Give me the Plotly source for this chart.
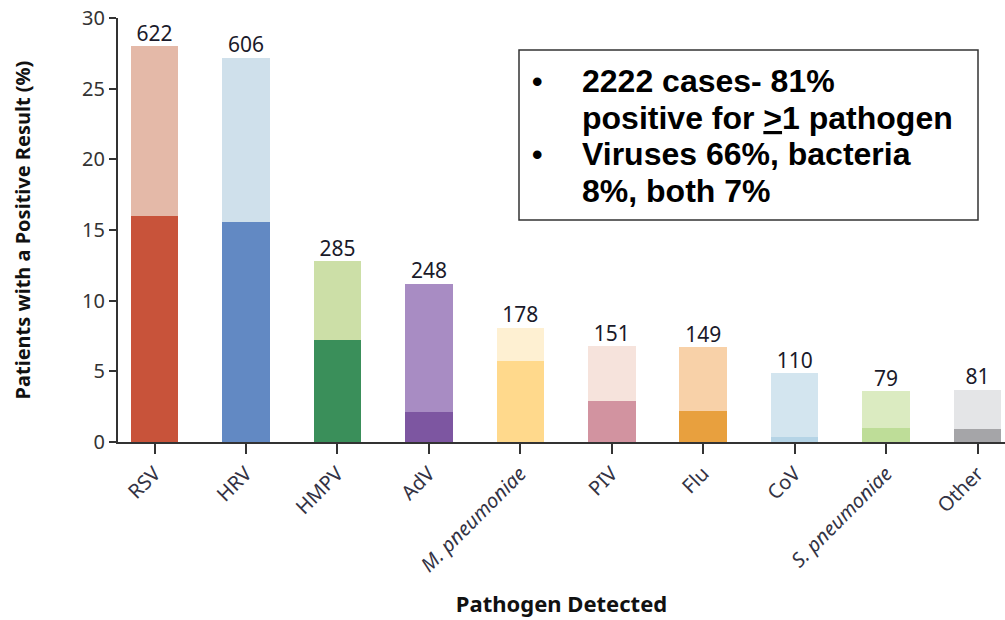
import plotly.graph_objects as go

categories = ["RSV", "HRV", "HMPV", "AdV", "<i>M. pneumoniae</i>", "PIV", "Flu", "CoV",
              "<i>S. pneumoniae</i>", "Other"]
total_pct = [28.0, 27.2, 12.8, 11.2, 8.1, 6.8, 6.7, 4.9, 3.6, 3.7]
dark_pct = [16.0, 15.6, 7.2, 2.1, 5.7, 2.9, 2.2, 0.35, 1.0, 0.9]
case_counts = ["622", "606", "285", "248", "178", "151", "149", "110", "79", "81"]
dark_colors = ["#C8533A", "#6289C3", "#3A8F5A", "#7D56A1", "#FFD98C", "#D293A0",
               "#E8A03E", "#B5D4E6", "#BEDD98", "#A5A5A8"]
light_colors = ["#E4B9A8", "#CFE0EB", "#CCDFA7", "#A88CC3", "#FEF0D2", "#F6E3DC",
                "#F8D1A8", "#D3E5EF", "#DBEBC1", "#E4E5E7"]
y_ticks = [0, 5, 10, 15, 20, 25, 30]
box_lines = ["2222 cases- 81%", "positive for <u>></u>1 pathogen",
             "Viruses 66%, bacteria", "8%, both 7%"]

light_pct = [t - d for t, d in zip(total_pct, dark_pct)]

fig = go.Figure()
fig.add_trace(go.Bar(x=categories, y=dark_pct, marker=dict(color=dark_colors, line=dict(width=0)),
                     hoverinfo="skip"))
fig.add_trace(go.Bar(x=categories, y=light_pct, marker=dict(color=light_colors, line=dict(width=0)),
                     hoverinfo="skip"))
fig.add_trace(go.Scatter(x=categories, y=total_pct, mode="text", text=case_counts,
                         textposition="top center",
                         textfont=dict(family="Noto Sans", size=21, color="#1a1a2a"),
                         hoverinfo="skip"))

fig.update_layout(
    width=1005, height=620,
    barmode="stack", bargap=0.48, showlegend=False,
    plot_bgcolor="white", paper_bgcolor="white",
    margin=dict(l=118, r=0, t=18, b=178),
    xaxis=dict(type="category", range=[-0.4, 9.3], tickangle=-45, automargin=False,
               showline=True, linecolor="#333333", linewidth=2,
               ticks="outside", ticklen=10, tickwidth=2, tickcolor="#333333",
               tickfont=dict(family="Noto Sans", size=20, color="#333344"),
               title=dict(text="<b>Pathogen Detected</b>", standoff=20,
                          font=dict(family="Noto Sans", size=22, color="#111111"))),
    yaxis=dict(range=[0, 30], tickvals=y_ticks, showgrid=False, zeroline=False, automargin=False,
               showline=True, linecolor="#333333", linewidth=2,
               ticks="outside", ticklen=7, tickwidth=1.5, tickcolor="#333333",
               tickfont=dict(family="Noto Sans", size=20, color="#333333"),
               title=dict(text="<b>Patients with a Positive Result (%)</b>", standoff=46,
                          font=dict(family="Noto Sans", size=20, color="#111111"))),
)

fig.add_shape(type="rect", xref="paper", yref="paper",
              x0=(519 - 118) / 887, x1=(978 - 118) / 887,
              y0=(442 - 220) / 424, y1=(442 - 50) / 424,
              line=dict(color="#333333", width=1.5), fillcolor="white", layer="above")

line_y = [81, 118, 154, 191]
for i, txt in enumerate(box_lines):
    yp = (442 - line_y[i]) / 424
    fig.add_annotation(xref="paper", yref="paper", x=(580 - 118) / 887, y=yp,
                       xanchor="left", yanchor="middle", showarrow=False,
                       text="<b>" + txt + "</b>",
                       font=dict(family="Liberation Sans", size=32, color="black"))
    if i in (0, 2):
        fig.add_annotation(xref="paper", yref="paper", x=(530 - 118) / 887, y=yp,
                           xanchor="left", yanchor="middle", showarrow=False,
                           text="<b>•</b>",
                           font=dict(family="Liberation Sans", size=30, color="black"))

fig.write_html("out.html", config={"displayModeBar": False},
               post_script="document.body.style.margin='0';")
